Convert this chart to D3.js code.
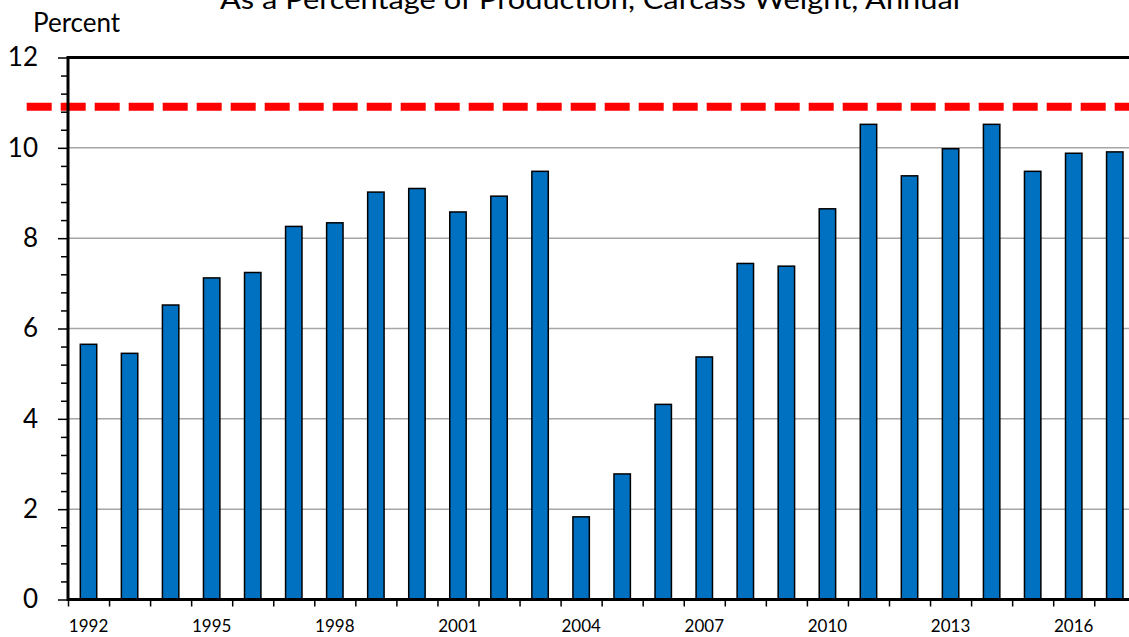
<!DOCTYPE html>
<html>
<head>
<meta charset="utf-8">
<script src="https://cdn.jsdelivr.net/npm/d3@7"></script>
<style>
  body { margin: 0; background: #fff; }
  svg { display: block; font-family: Lato, "Open Sans", sans-serif; }
</style>
</head>
<body>
<div id="chart"></div>
<script>
// years on the x axis
var years = ["1992","1993","1994","1995","1996","1997","1998","1999","2000","2001","2002","2003","2004",
             "2005","2006","2007","2008","2009","2010","2011","2012","2013","2014","2015","2016","2017"];
// percent of production
var percent = [5.65, 5.45, 6.52, 7.12, 7.24, 8.26, 8.34, 9.02, 9.10, 8.58, 8.93, 9.48, 1.83,
               2.78, 4.32, 5.37, 7.44, 7.38, 8.65, 10.52, 9.38, 9.98, 10.52, 9.48, 9.88, 9.91];
// only every third year gets a label
var yearLabels = ["1992","1995","1998","2001","2004","2007","2010","2013","2016"];
var yTicks = [0, 2, 4, 6, 8, 10, 12];
var limitValue = 10.91;

var width = 1129, height = 637;
// note: "top" is taken by window.top, so plot edges get their own names
var plotLeft = 68, plotTop = 57.5, plotBottom = 599.5;
var step = 41.05;
var plotRight = plotLeft + years.length * step;

var svg = d3.select("#chart").append("svg")
    .attr("width", width)
    .attr("height", height);

// scales
var x = d3.scaleBand()
    .domain(years)
    .range([plotLeft, plotRight])
    .paddingInner(0.6)
    .paddingOuter(0.3);

var xEdge = d3.scaleLinear().domain([0, years.length]).range([plotLeft, plotRight]);

var y = d3.scaleLinear().domain([0, 12]).range([plotBottom, plotTop]);

// title (its top is cut off in the original)
svg.append("text")
    .attr("x", 220)
    .attr("y", 9)
    .attr("textLength", 740)
    .attr("lengthAdjust", "spacingAndGlyphs")
    .style("font-size", "27px")
    .text("As a Percentage of Production, Carcass Weight, Annual");

svg.append("text")
    .attr("x", 33)
    .attr("y", 32)
    .style("font-size", "26px")
    .text("Percent");

// gridlines
svg.append("g")
    .selectAll("line")
    .data(yTicks.filter(function(d){ return d > 0 && d < 12; }))
    .enter()
    .append("line")
    .attr("x1", plotLeft).attr("x2", plotRight)
    .attr("y1", function(d){ return y(d); })
    .attr("y2", function(d){ return y(d); })
    .attr("stroke", "#a6a6a6")
    .attr("stroke-width", 1.5);

// bars
svg.append("g")
    .selectAll("rect")
    .data(percent)
    .enter()
    .append("rect")
    .attr("x", function(d, i){ return x(years[i]); })
    .attr("width", x.bandwidth())
    .attr("y", function(d){ return y(d); })
    .attr("height", function(d){ return y(0) - y(d); })
    .attr("fill", "#0070c0")
    .attr("stroke", "#000")
    .attr("stroke-width", 1.5);

// red dashed reference line
svg.append("line")
    .attr("x1", 26.7).attr("x2", width)
    .attr("y1", y(limitValue)).attr("y2", y(limitValue))
    .attr("stroke", "#ff0000")
    .attr("stroke-width", 8)
    .attr("stroke-dasharray", "25,9");

// minor y ticks
var minor = d3.range(0, 12.01, 0.4).filter(function(d){ return Math.abs(d / 2 - Math.round(d / 2)) > 0.01; });
svg.append("g")
    .attr("transform", "translate(" + plotLeft + ",0)")
    .call(d3.axisLeft(y).tickValues(minor).tickSize(7).tickFormat(""))
    .call(function(g){
        g.select(".domain").remove();
        g.selectAll("line").attr("stroke-width", 1.5);
    });

// major y ticks + labels
svg.append("g")
    .attr("transform", "translate(" + plotLeft + ",0)")
    .call(d3.axisLeft(y).tickValues(yTicks).tickSize(10).tickPadding(20))
    .call(function(g){
        g.select(".domain").remove();
        g.selectAll("line").attr("stroke-width", 1.5);
        g.selectAll("text")
            .style("font-family", "Lato, 'Open Sans', sans-serif")
            .style("font-size", "26px")
            .attr("fill", "#000");
    });

// x ticks at category edges
svg.append("g")
    .attr("transform", "translate(0," + plotBottom + ")")
    .call(d3.axisBottom(xEdge).ticks(years.length).tickSize(7).tickFormat(""))
    .call(function(g){
        g.select(".domain").remove();
        g.selectAll("line").attr("stroke-width", 1.5);
    });

// x labels every third year
svg.append("g")
    .attr("transform", "translate(0," + plotBottom + ")")
    .call(d3.axisBottom(x).tickValues(yearLabels).tickSize(0).tickPadding(20))
    .call(function(g){
        g.select(".domain").remove();
        g.selectAll("text")
            .style("font-family", "Lato, 'Open Sans', sans-serif")
            .style("font-size", "17px")
            .attr("fill", "#000");
    });

// plot frame
svg.append("rect")
    .attr("x", plotLeft).attr("y", plotTop)
    .attr("width", plotRight - plotLeft).attr("height", plotBottom - plotTop)
    .attr("fill", "none")
    .attr("stroke", "#000")
    .attr("stroke-width", 3);
</script>
</body>
</html>
